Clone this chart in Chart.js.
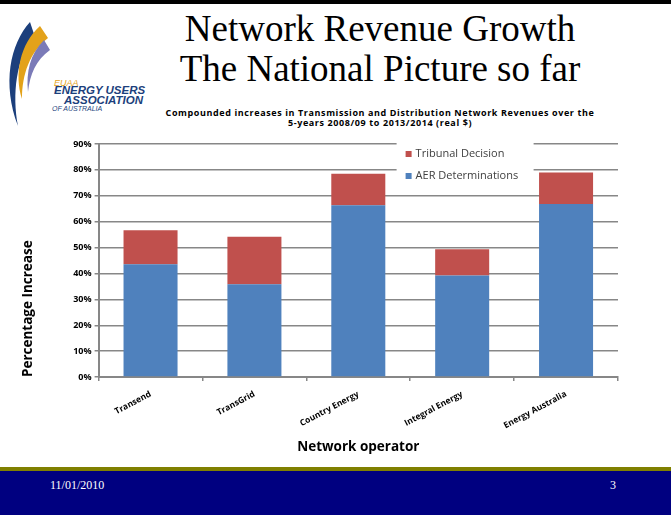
<!DOCTYPE html>
<html>
<head>
<meta charset="utf-8">
<script src="https://cdn.jsdelivr.net/npm/chart.js@4.4.0/dist/chart.umd.min.js"></script>
<style>
	html, body { margin: 0; padding: 0; background: #fff; }
	#slide { position: relative; width: 671px; height: 515px; overflow: hidden; background: #fff; }
	#topline { position: absolute; left: 0; top: 0; width: 671px; height: 4px; background: #000; }
	#title { position: absolute; left: 160px; width: 440px; top: 9px; text-align: center;
		font-family: "Liberation Serif", serif; font-size: 37px; line-height: 40px; color: #000; }
	#ctitle { position: absolute; left: 140px; width: 480px; top: 108px; text-align: center;
		font-family: "Open Sans", sans-serif; font-weight: bold; font-size: 9px; letter-spacing: 0.6px; line-height: 10px; color: #000; }
	#logo { position: absolute; left: 0; top: 16px; }
	.lg { position: absolute; font-family: "Liberation Sans", sans-serif; font-style: italic; white-space: nowrap; }
	#wrap { position: absolute; left: 0; top: 128px; width: 671px; height: 335px; }
	#olive { position: absolute; left: 0; top: 467px; width: 671px; height: 4px; background: #808000; }
	#navy { position: absolute; left: 0; top: 471px; width: 671px; height: 44px; background: #000080; }
	.foot { position: absolute; top: 478px; font-family: "Liberation Serif", serif; font-size: 12px; color: #fff; }
</style>
</head>
<body>
<div id="slide">
	<div id="topline"></div>
	<svg id="logo" width="60" height="115" viewBox="0 0 60 115">
		<path d="M30 6 C10 28 2 68 18 110 C12 78 16 43 34 18 Z" fill="#1c3f7c"/>
		<path d="M40 10 C20 28 14 58 22 83 C22 58 30 36 48 22 Z" fill="#e3a21a"/>
		<path d="M44 24 C30 38 26 56 28 76 C30 58 36 44 50 34 Z" fill="#7b7bb8"/>
	</svg>
	<div class="lg" style="left:54px; top:78px; font-size:9px; color:#e3a21a;">EUAA</div>
	<div class="lg" style="left:54px; top:84px; font-size:11.5px; font-weight:bold; color:#1c3f7c;">ENERGY USERS</div>
	<div class="lg" style="left:64px; top:94px; font-size:11.5px; font-weight:bold; color:#1c3f7c;">ASSOCIATION</div>
	<div class="lg" style="left:52px; top:105px; font-size:7px; color:#1c3f7c;">OF AUSTRALIA</div>
	<div id="title">Network Revenue Growth<br>The National Picture so far</div>
	<div id="ctitle">Compounded increases in Transmission and Distribution Network Revenues over the<br>5-years 2008/09 to 2013/2014 (real $)</div>
	<div id="wrap"><canvas id="chart" width="671" height="335"></canvas></div>
	<div id="olive"></div>
	<div id="navy"></div>
	<div class="foot" style="left:50px;">11/01/2010</div>
	<div class="foot" style="left:610px;">3</div>
</div>
<script>
var operators = ["Transend", "TransGrid", "Country Energy", "Integral Energy", "Energy Australia"];
var aerValues = [43.6, 35.8, 66.3, 39.2, 66.8];
var tribunalValues = [13.1, 18.4, 12.2, 10.2, 12.2];
var yTicks = [0, 10, 20, 30, 40, 50, 60, 70, 80, 90];

var gridGrey = "#878787";
var chartFont = "'Open Sans', sans-serif";

// legend drawn inside the plot, on a white patch like the original
var boxLegend = {
	id: "boxLegend",
	beforeDatasetsDraw: function (chart) {
		var ctx = chart.ctx;
		var a = chart.chartArea;
		var x = a.left + 298;
		var y = a.top - 4;
		ctx.save();
		ctx.fillStyle = "#fff";
		ctx.fillRect(x, y, 137, 48);
		var items = [chart.data.datasets[1], chart.data.datasets[0]];
		ctx.font = "11px " + chartFont;
		ctx.textBaseline = "middle";
		for (var i = 0; i < items.length; i++) {
			var cy = a.top + 10 + i * 22;
			ctx.fillStyle = items[i].backgroundColor;
			ctx.fillRect(x + 9, cy - 3, 6, 6);
			ctx.fillStyle = "#404040";
			ctx.fillText(items[i].label, x + 19, cy);
		}
		ctx.restore();
	}
};

var ctx = document.getElementById("chart").getContext("2d");
var chart = new Chart(ctx, {
	type: "bar",
	data: {
		labels: operators,
		datasets: [
			{
				label: "AER Determinations",
				data: aerValues,
				backgroundColor: "#4F81BD",
				borderWidth: 0,
			},
			{
				label: "Tribunal Decision",
				data: tribunalValues,
				backgroundColor: "#C0504D",
				borderWidth: 0,
			},
		],
	},
	options: {
		responsive: false,
		animation: false,
		layout: { padding: { top: 16, right: 53, bottom: 8, left: 20 } },
		datasets: { bar: { barPercentage: 0.52, categoryPercentage: 1 } },
		plugins: {
			legend: { display: false },
			tooltip: { enabled: false },
		},
		scales: {
			x: {
				stacked: true,
				grid: { drawOnChartArea: false, color: gridGrey, lineWidth: 1.5, tickLength: 4, offset: true },
				border: { color: gridGrey, width: 2 },
				ticks: {
					color: "#000",
					font: { family: chartFont, size: 8.5, weight: "bold" },
					minRotation: 28,
					maxRotation: 28,
					padding: 8,
				},
				title: {
					display: true,
					text: "Network operator",
					color: "#000",
					font: { family: chartFont, size: 13.5, weight: "bold" },
					padding: { top: 0, bottom: 0 },
				},
			},
			y: {
				stacked: true,
				min: 0,
				max: 90,
				afterBuildTicks: function (scale) {
					scale.ticks = yTicks.map(function (v) { return { value: v }; });
				},
				grid: { color: gridGrey, lineWidth: 1.5, tickLength: 4 },
				border: { color: gridGrey, width: 2 },
				ticks: {
					color: "#000",
					font: { family: chartFont, size: 9, weight: "bold" },
					padding: 3,
					callback: function (v) { return v + "%"; },
				},
				title: {
					display: true,
					text: "Percentage Increase",
					align: "start",
					color: "#000",
					font: { family: chartFont, size: 13.5, weight: "bold" },
					padding: { top: 0, bottom: 34 },
				},
			},
		},
	},
	plugins: [boxLegend],
});
</script>
</body>
</html>
